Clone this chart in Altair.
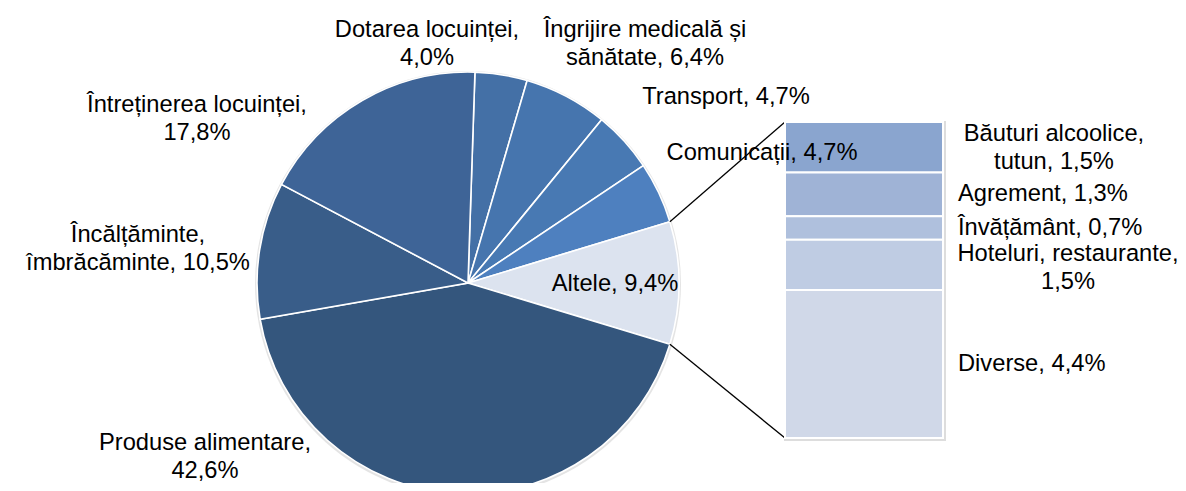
import math
import altair as alt
import pandas as pd

# ---------------- data ----------------
pie_names = ["Dotarea locuinței", "Îngrijire medicală și sănătate", "Transport",
             "Comunicații", "Altele", "Produse alimentare",
             "Încălțăminte, îmbrăcăminte", "Întreținerea locuinței"]
pie_values = [4.0, 6.4, 4.7, 4.7, 9.4, 42.6, 10.5, 17.8]
pie_colors = ["#4470a6", "#4675ae", "#4879b3", "#4e80bf", "#dce3ef",
              "#34567d", "#395d89", "#3e6497"]

bar_names = ["Băuturi alcoolice, tutun", "Agrement", "Învățământ",
             "Hoteluri, restaurante", "Diverse"]
bar_values = [1.5, 1.3, 0.7, 1.5, 4.4]
bar_colors = ["#8aa5cf", "#9fb3d6", "#afc0dd", "#bfcce3", "#d0d8e8"]

# where each label wraps (number of words on the first line)
label_break = {"Dotarea locuinței": 2, "Îngrijire medicală și sănătate": 3,
               "Produse alimentare": 2, "Încălțăminte, îmbrăcăminte": 1,
               "Întreținerea locuinței": 2, "Băuturi alcoolice, tutun": 2,
               "Hoteluri, restaurante": 2}

# ---------------- layout ----------------
W, H = 1170, 475
CX, CY, R = 460, 275, 211
BAR_X0, BAR_X1, BAR_TOP, BAR_BOT = 777, 935, 114, 430
FONT, FS, LH = "Liberation Sans", 23.7, 27.5

pie_label_pos = {  # x, y (block centre), align
    "Dotarea locuinței": (419, 36, "center"),
    "Îngrijire medicală și sănătate": (637, 36, "center"),
    "Transport": (718, 89, "center"),
    "Comunicații": (754, 145, "center"),
    "Altele": (607, 276, "center"),
    "Produse alimentare": (197, 449, "center"),
    "Încălțăminte, îmbrăcăminte": (130, 241, "center"),
    "Întreținerea locuinței": (189, 111, "center"),
}
bar_label_pos = {  # x, align, vertical nudge
    "Băuturi alcoolice, tutun": (1046, "center", 1),
    "Agrement": (950, "left", 0),
    "Învățământ": (950, "left", 0),
    "Hoteluri, restaurante": (1060, "center", 3),
    "Diverse": (950, "left", 0),
}


def make_label(name, v):
    txt = f"{name}, {v:.1f}%".replace(".", ",")
    n = label_break.get(name)
    if n:
        words = txt.split(" ")
        txt = " ".join(words[:n]) + "\n" + " ".join(words[n:])
    return txt


total = sum(pie_values)
pie_df = pd.DataFrame({"name": pie_names, "value": pie_values,
                       "ord": list(range(len(pie_names)))})
pie_df["label"] = [make_label(n, v) for n, v in zip(pie_names, pie_values)]

# rotate so that "Altele" is centred on the horizontal (3 o'clock)
ia = pie_names.index("Altele")
before = sum(pie_values[:ia])
start = math.pi / 2 - 2 * math.pi * (before + pie_values[ia] / 2) / total
a0 = start + 2 * math.pi * before / total
a1 = a0 + 2 * math.pi * pie_values[ia] / total

bar_total = sum(bar_values)
bar_df = pd.DataFrame({"name": bar_names, "value": bar_values})
bar_df["label"] = [make_label(n, v) for n, v in zip(bar_names, bar_values)]
lo, hi, cum = {}, {}, 0.0
for n, v in zip(bar_names[::-1], bar_values[::-1]):  # stack from the bottom
    lo[n], hi[n] = cum, cum + v
    cum += v
bar_df["lo"] = [lo[n] for n in bar_names]
bar_df["hi"] = [hi[n] for n in bar_names]
bar_df["mid"] = (bar_df["lo"] + bar_df["hi"]) / 2

theta_scale = alt.Scale(domain=[0, total], range=[start, start + 2 * math.pi])
y_scale = alt.Scale(domain=[0, bar_total], range=[BAR_BOT, BAR_TOP])
one = pd.DataFrame({"k": [0]})

layers = []

# pie shadow ring
layers.append(
    alt.Chart(one).mark_arc(radius=R + 2, theta=0, theta2=2 * math.pi,
                            color="#c4c4c4", opacity=0.45)
    .encode(x=alt.value(CX), y=alt.value(CY + 1))
)
# pie slices
layers.append(
    alt.Chart(pie_df).mark_arc(radius=R, stroke="white", strokeWidth=1.6)
    .encode(
        x=alt.value(CX), y=alt.value(CY),
        theta=alt.Theta("value:Q", stack=True, scale=theta_scale),
        order=alt.Order("ord:Q"),
        color=alt.Color("name:N", scale=alt.Scale(domain=pie_names, range=pie_colors),
                        legend=None),
    )
)

# connector lines
for ang, yb in [(a0, BAR_TOP), (a1, BAR_BOT)]:
    px = CX + R * math.sin(ang)
    py = CY - R * math.cos(ang)
    layers.append(
        alt.Chart(one).mark_rule(color="black", strokeWidth=1.3)
        .encode(x=alt.value(px), y=alt.value(py), x2=alt.value(BAR_X0), y2=alt.value(yb))
    )

# bar shadow
layers.append(
    alt.Chart(one).mark_rect(color="#d4d4d4", opacity=0.8)
    .encode(x=alt.value(BAR_X0 - 1), x2=alt.value(BAR_X1 + 3),
            y=alt.value(BAR_TOP - 1), y2=alt.value(BAR_BOT + 3))
)
# stacked bar
layers.append(
    alt.Chart(bar_df).mark_rect(stroke="white", strokeWidth=2)
    .encode(
        x=alt.value(BAR_X0), x2=alt.value(BAR_X1),
        y=alt.Y("lo:Q", scale=y_scale, axis=None),
        y2=alt.Y2("hi:Q"),
        color=alt.Color("name:N", scale=alt.Scale(domain=bar_names, range=bar_colors),
                        legend=None),
    )
)


def lines_of(df, n):
    return df.loc[df["name"] == n, "label"].iloc[0].count("\n") + 1


# pie labels
for n in pie_names:
    x, y, al = pie_label_pos[n]
    dy = -(lines_of(pie_df, n) - 1) * LH / 2
    layers.append(
        alt.Chart(pie_df).transform_filter(alt.datum.name == n)
        .mark_text(font=FONT, fontSize=FS, lineHeight=LH, lineBreak="\n",
                   align=al, baseline="middle", color="#000000", dy=dy)
        .encode(x=alt.value(x), y=alt.value(y), text="label:N")
    )

# bar labels
for n in bar_names:
    x, al, nudge = bar_label_pos[n]
    dy = -(lines_of(bar_df, n) - 1) * LH / 2 + nudge
    layers.append(
        alt.Chart(bar_df).transform_filter(alt.datum.name == n)
        .mark_text(font=FONT, fontSize=FS, lineHeight=LH, lineBreak="\n",
                   align=al, baseline="middle", color="#000000", dy=dy)
        .encode(x=alt.value(x),
                y=alt.Y("mid:Q", scale=y_scale, axis=None),
                text="label:N")
    )

chart = (
    alt.layer(*layers)
    .resolve_scale(color="independent")
    .properties(width=W, height=H, padding=0,
                autosize=alt.AutoSizeParams(type="none"))
    .configure_view(stroke=None)
)

chart.save("out.html", embed_options={"renderer": "svg", "actions": False})
